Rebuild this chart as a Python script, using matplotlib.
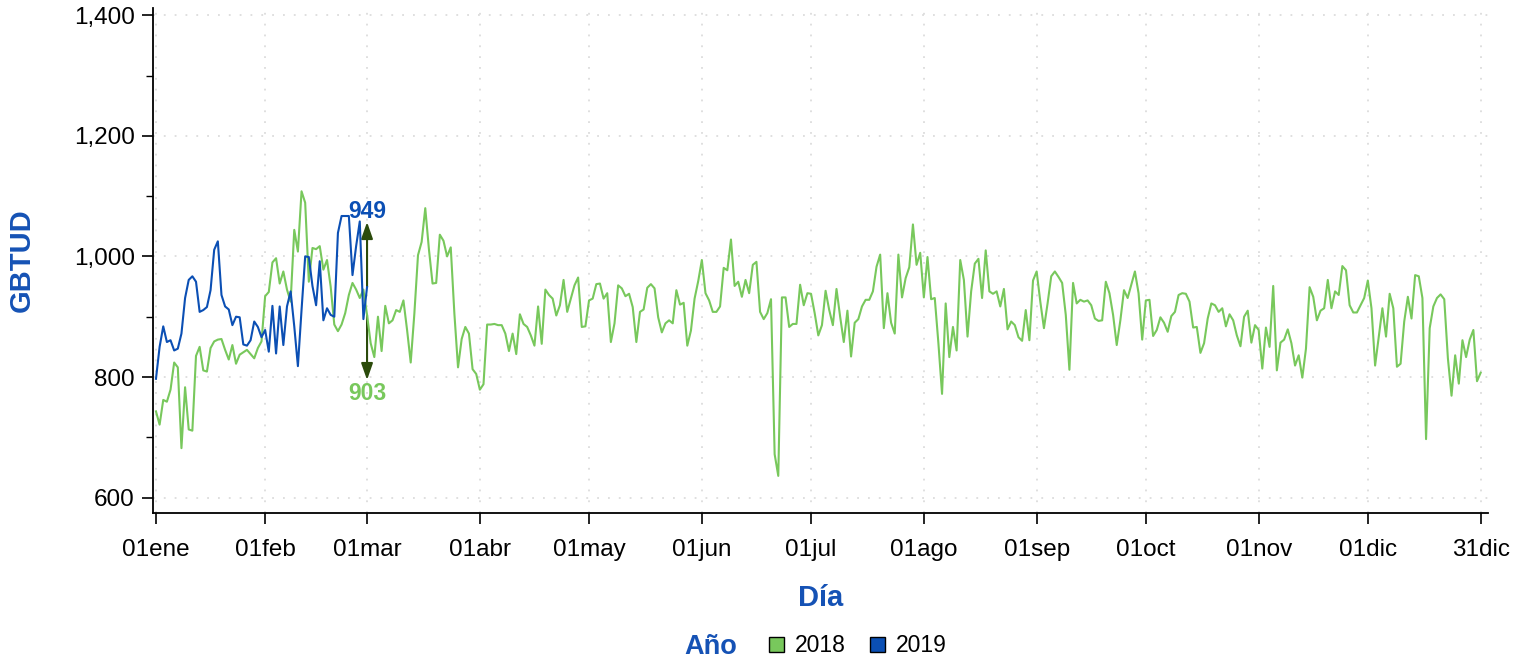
import numpy as np
import matplotlib
matplotlib.use('Agg')
import matplotlib.pyplot as plt
import matplotlib.ticker as ticker
from matplotlib.patches import Patch

# daily GBTUD, 2018 (full year) and 2019 (01ene - 01mar)
gbtud_2018 = [
    743, 721, 762, 759, 779, 824, 816, 682, 783, 713,
    711, 835, 850, 811, 809, 848, 859, 862, 863, 845,
    829, 853, 822, 837, 841, 845, 838, 831, 848, 859,
    934, 941, 990, 997, 955, 975, 945, 925, 1044, 1008,
    1108, 1089, 958, 1014, 1012, 1017, 978, 994, 950, 887,
    876, 887, 906, 936, 956, 945, 931, 945, 903, 856,
    833, 900, 843, 918, 889, 894, 911, 908, 927, 878,
    824, 905, 1002, 1024, 1080, 1012, 955, 956, 1036, 1026,
    1000, 1015, 905, 816, 863, 883, 872, 813, 805, 779,
    788, 887, 887, 888, 886, 886, 872, 843, 872, 838,
    904, 888, 883, 869, 852, 917, 855, 945, 936, 930,
    902, 919, 961, 908, 930, 952, 965, 883, 884, 927,
    930, 954, 955, 930, 939, 858, 889, 952, 947, 934,
    938, 916, 858, 908, 912, 948, 954, 947, 899, 874,
    889, 894, 889, 944, 920, 923, 852, 877, 930, 959,
    994, 939, 927, 908, 908, 917, 981, 977, 1028, 951,
    958, 933, 961, 939, 986, 991, 908, 896, 906, 929,
    672, 636, 932, 932, 883, 888, 888, 953, 919, 939,
    938, 906, 869, 886, 943, 911, 886, 946, 900, 858,
    910, 834, 890, 896, 917, 928, 928, 942, 983, 1003,
    881, 939, 890, 872, 1003, 932, 964, 982, 1053, 986,
    1006, 932, 999, 929, 931, 856, 772, 922, 833, 883,
    844, 994, 961, 867, 942, 988, 996, 931, 1010, 942,
    938, 942, 917, 946, 879, 892, 886, 866, 860, 911,
    861, 960, 975, 925, 881, 922, 967, 975, 966, 956,
    903, 812, 956, 922, 928, 925, 927, 919, 897, 893,
    894, 958, 939, 903, 853, 894, 944, 931, 953, 975,
    939, 862, 927, 928, 868, 878, 899, 890, 875, 901,
    908, 936, 939, 938, 925, 882, 883, 840, 856, 897,
    922, 919, 908, 914, 884, 904, 894, 869, 851, 900,
    910, 857, 886, 878, 814, 882, 850, 951, 811, 857,
    862, 879, 856, 819, 836, 799, 847, 949, 933, 894,
    910, 914, 961, 914, 942, 936, 984, 977, 919, 907,
    907, 919, 931, 960, 914, 819, 867, 914, 867, 938,
    914, 817, 822, 892, 933, 897, 969, 967, 931, 697,
    881, 917, 931, 937, 929, 831, 769, 836, 789, 861,
    833, 862, 878, 793, 807,
]

gbtud_2019 = [
    797, 850, 884, 858, 861, 844, 847, 872, 931, 961,
    967, 958, 908, 911, 916, 944, 1011, 1025, 936, 917,
    912, 886, 900, 899, 854, 852, 861, 892, 883, 866,
    878, 842, 918, 839, 917, 853, 917, 942, 884, 818,
    911, 1000, 999, 951, 919, 992, 894, 914, 903, 900,
    1039, 1067, 1067, 1067, 969, 1017, 1058, 896, 949,
]

tick_pos = [0, 30, 58, 89, 119, 150, 180, 211, 242, 272, 303, 333, 364]
tick_labels = ['01ene', '01feb', '01mar', '01abr', '01may', '01jun', '01jul',
               '01ago', '01sep', '01oct', '01nov', '01dic', '31dic']
years = ['2018', '2019']

green = '#78c85c'
blue = '#0b4fb4'
title_blue = '#1552b5'
arrow_green = '#2b4b0b'

plt.rcParams['font.family'] = ['Liberation Sans', 'DejaVu Sans']

fig = plt.figure(figsize=(15.3, 6.64), dpi=100)
ax = fig.add_axes([0.0998, 0.2279, 0.8727, 0.7601])

days18 = np.arange(len(gbtud_2018))
days19 = np.arange(len(gbtud_2019))
ax.plot(days18, gbtud_2018, color=green, lw=1.5, zorder=3)
ax.plot(days19, gbtud_2019, color=blue, lw=1.5, zorder=4)

# arrows + labels at the last 2019 day
last = days19[-1]
arrow_len = 108
v19 = gbtud_2019[-1]
v18 = gbtud_2018[last]
astyle = dict(arrowstyle='-|>,head_length=1.0,head_width=0.35', color=arrow_green, lw=1.5,
              shrinkA=0, shrinkB=0)
ax.annotate('', xy=(last, v19 + arrow_len), xytext=(last, v19), arrowprops=astyle, zorder=2)
ax.annotate('', xy=(last, v18 - arrow_len), xytext=(last, v18), arrowprops=astyle, zorder=2)
ax.annotate(f'{v19:.0f}', xy=(last, v19 + arrow_len), xytext=(0, 7.5), textcoords='offset points',
            ha='center', va='center', color=blue, fontsize=16.5, fontweight='bold')
ax.annotate(f'{v18:.0f}', xy=(last, v18 - arrow_len), xytext=(0, -10), textcoords='offset points',
            ha='center', va='center', color=green, fontsize=16.5, fontweight='bold')

ax.set_xlim(-0.9, 366)
ax.set_ylim(575, 1412)

ax.set_xticks(tick_pos)
ax.set_xticklabels(tick_labels)
ax.yaxis.set_major_locator(ticker.MultipleLocator(200))
ax.yaxis.set_minor_locator(ticker.MultipleLocator(100))
ax.yaxis.set_major_formatter(ticker.FuncFormatter(lambda v, pos: f'{v:,.0f}'))

ax.tick_params(axis='both', which='major', length=8, width=1.2, labelsize=17.5, direction='out')
ax.tick_params(axis='x', which='major', pad=11)
ax.tick_params(axis='y', which='major', pad=5)
ax.tick_params(axis='y', which='minor', length=4.8, width=1.0)
ax.tick_params(axis='x', which='minor', length=0)

for side in ['top', 'right']:
    ax.spines[side].set_visible(False)
for side in ['left', 'bottom']:
    ax.spines[side].set_linewidth(1.3)

ax.grid(True, which='major', color='#dcdcdc', linestyle=(0, (1, 5)), linewidth=1.3)
ax.set_axisbelow(True)

ax.set_ylabel('GBTUD', fontsize=21, fontweight='bold', color=title_blue, va='center')
ax.yaxis.set_label_coords(-0.098, 0.5)
ax.set_xlabel('Día', fontsize=21, fontweight='bold', color=title_blue, va='center')
ax.xaxis.set_label_coords(0.5, -0.169)

# legend row
fig.text(711 / 1530, 1 - 647 / 664, 'Año', ha='center', va='center', fontsize=19.5,
         fontweight='bold', color=title_blue)
handles = [Patch(facecolor=green, edgecolor='black', lw=1.0),
           Patch(facecolor=blue, edgecolor='black', lw=1.0)]
fig.legend(handles, years, loc='center left', bbox_to_anchor=(769 / 1530, 1 - 646 / 664),
           ncol=2, frameon=False, fontsize=16.5, borderpad=0, borderaxespad=0,
           handlelength=0.65, handleheight=0.65, handletextpad=0.48, columnspacing=1.04)

fig.savefig('out.png', dpi=100)
